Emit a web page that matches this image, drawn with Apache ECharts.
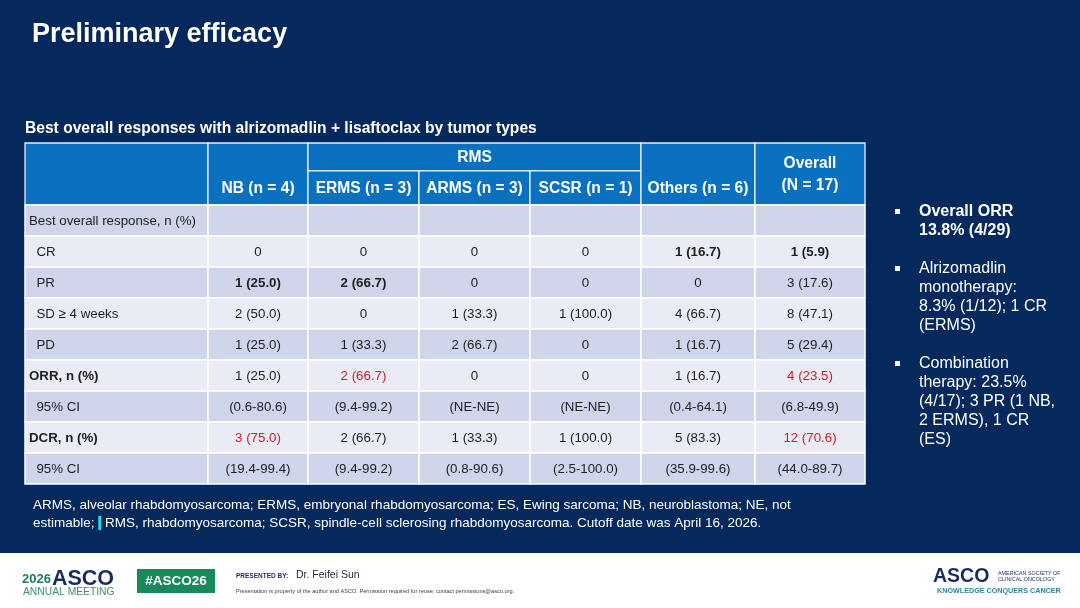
<!DOCTYPE html>
<html>
<head>
<meta charset="utf-8">
<script src="https://cdn.jsdelivr.net/npm/echarts@6/dist/echarts.min.js"></script>
<style>html,body{margin:0;padding:0;background:#05295c;}#c{width:1080px;height:608px;}</style>
</head>
<body>
<div id="c"></div>
<script>
// ---------- data ----------
const columnHeaders = ['', 'NB (n = 4)', 'ERMS (n = 3)', 'ARMS (n = 3)', 'SCSR (n = 1)', 'Others (n = 6)', 'Overall\n(N = 17)'];
const groupHeader = 'RMS';
const rowLabels = ['Best overall response, n (%)', '  CR', '  PR', '  SD \u2265 4 weeks', '  PD', 'ORR, n (%)', '  95% CI', 'DCR, n (%)', '  95% CI'];
const nbValues      = ['', '0', '1 (25.0)', '2 (50.0)', '1 (25.0)', '1 (25.0)', '(0.6-80.6)', '3 (75.0)', '(19.4-99.4)'];
const ermsValues    = ['', '0', '2 (66.7)', '0', '1 (33.3)', '2 (66.7)', '(9.4-99.2)', '2 (66.7)', '(9.4-99.2)'];
const armsValues    = ['', '0', '0', '1 (33.3)', '2 (66.7)', '0', '(NE-NE)', '1 (33.3)', '(0.8-90.6)'];
const scsrValues    = ['', '0', '0', '1 (100.0)', '0', '0', '(NE-NE)', '1 (100.0)', '(2.5-100.0)'];
const othersValues  = ['', '1 (16.7)', '0', '4 (66.7)', '1 (16.7)', '1 (16.7)', '(0.4-64.1)', '5 (83.3)', '(35.9-99.6)'];
const overallValues = ['', '1 (5.9)', '3 (17.6)', '8 (47.1)', '5 (29.4)', '4 (23.5)', '(6.8-49.9)', '12 (70.6)', '(44.0-89.7)'];
const boldRows = [5, 7];                       // row labels in bold
const boldCells = [[1, 2], [2, 2], [5, 1], [6, 1]];   // [column, row]
const redCells  = [[2, 5], [6, 5], [1, 7], [6, 7]];   // [column, row]
const bullets = [
  {bold: true,  lines: ['Overall ORR', '13.8% (4/29)']},
  {bold: false, lines: ['Alrizomadlin', 'monotherapy:', '8.3% (1/12); 1 CR', '(ERMS)']},
  {bold: false, lines: ['Combination', 'therapy: 23.5%', '(4/17); 3 PR (1 NB,', '2 ERMS), 1 CR', '(ES)']}
];

// ---------- layout ----------
const colEdges = [0, 183, 283, 394, 505, 616, 730, 840];
const FONT = '"Liberation Sans", Arial, Helvetica, sans-serif';
const HEADER_BLUE = '#0a70c0';
const ROW_DARK = '#cfd5ea', ROW_LIGHT = '#e9ebf5';
const SPLIT = -1.1;

const valueCols = [rowLabels, nbValues, ermsValues, armsValues, scsrValues, othersValues, overallValues];
const isIn = (list, c, r) => list.some(p => p[0] === c && p[1] === r);

const bodyCells = [];
valueCols.forEach((col, c) => col.forEach((t, r) => {
  bodyCells.push({c, r, text: t,
    bold: (c === 0 && boldRows.includes(r)) || isIn(boldCells, c, r),
    red: isIn(redCells, c, r)});
}));

const headerCells = [
  {c0: 0, c1: 1, r0: -2, r1: 0, text: columnHeaders[0]},
  {c0: 1, c1: 2, r0: -2, r1: 0, text: columnHeaders[1]},
  {c0: 2, c1: 5, r0: -2, r1: SPLIT, text: groupHeader},
  {c0: 2, c1: 3, r0: SPLIT, r1: 0, text: columnHeaders[2]},
  {c0: 3, c1: 4, r0: SPLIT, r1: 0, text: columnHeaders[3]},
  {c0: 4, c1: 5, r0: SPLIT, r1: 0, text: columnHeaders[4]},
  {c0: 5, c1: 6, r0: -2, r1: 0, text: columnHeaders[5]},
  {c0: 6, c1: 7, r0: -2, r1: 0, text: columnHeaders[6]}
];

function renderBody(params, api) {
  const cell = bodyCells[params.dataIndex];
  const p0 = api.coord([colEdges[cell.c], cell.r]);
  const p1 = api.coord([colEdges[cell.c + 1], cell.r + 1]);
  const fill = cell.r % 2 === 0 ? ROW_DARK : ROW_LIGHT;
  const children = [{
    type: 'rect',
    shape: {x: p0[0], y: p0[1], width: p1[0] - p0[0], height: p1[1] - p0[1]},
    style: {fill, stroke: '#ffffff', lineWidth: 1.5}
  }];
  if (cell.text) {
    const left = cell.c === 0;
    children.push({
      type: 'text',
      x: left ? p0[0] + 4 : (p0[0] + p1[0]) / 2,
      y: (p0[1] + p1[1]) / 2 + 0.5,
      style: {
        text: cell.text,
        fill: cell.red ? '#c8242b' : '#1e1e1e',
        font: (cell.bold ? 'bold ' : '') + '13.3px ' + FONT,
        align: left ? 'left' : 'center',
        verticalAlign: 'middle'
      }
    });
  }
  return {type: 'group', children};
}

function renderHeader(params, api) {
  const h = headerCells[params.dataIndex];
  const p0 = api.coord([colEdges[h.c0], h.r0]);
  const p1 = api.coord([colEdges[h.c1], h.r1]);
  const children = [{
    type: 'rect',
    shape: {x: p0[0], y: p0[1], width: p1[0] - p0[0], height: p1[1] - p0[1]},
    style: {fill: HEADER_BLUE, stroke: '#e8eef8', lineWidth: 1.3}
  }];
  if (h.text) {
    let yMid;
    const multi = h.text.indexOf('\n') >= 0;
    if (h.r0 === -2 && h.r1 === 0 && !multi) {
      const a = api.coord([0, SPLIT])[1], b = api.coord([0, 0])[1];
      yMid = (a + b) / 2;
    } else {
      yMid = (p0[1] + p1[1]) / 2;
    }
    children.push({
      type: 'text',
      x: (p0[0] + p1[0]) / 2,
      y: yMid + 0.5,
      style: {
        text: h.text, fill: '#ffffff',
        font: 'bold 15.6px ' + FONT,
        align: 'center', verticalAlign: 'middle', lineHeight: 22
      }
    });
  }
  return {type: 'group', children};
}

// ---------- graphics (texts around the table) ----------
const graphics = [];
graphics.push({type: 'text', x: 25, y: 129, style: {text: 'Best overall responses with alrizomadlin + lisaftoclax by tumor types', fill: '#ffffff', font: 'bold 15.6px ' + FONT, verticalAlign: 'middle'}});
let by = 212;
bullets.forEach(b => {
  graphics.push({type: 'rect', shape: {x: 895, y: by - 3, width: 5, height: 5}, style: {fill: '#ffffff'}});
  b.lines.forEach((ln, i) => {
    graphics.push({type: 'text', x: 919, y: by + i * 19, style: {text: ln, fill: '#ffffff', font: (b.bold ? 'bold ' : '') + '16px ' + FONT, verticalAlign: 'middle'}});
  });
  by += b.lines.length * 19 + 19;
});
graphics.push({type: 'text', x: 33, y: 505, style: {text: 'ARMS, alveolar rhabdomyosarcoma; ERMS, embryonal rhabdomyosarcoma; ES, Ewing sarcoma; NB, neuroblastoma; NE, not', fill: '#ffffff', font: '13.5px ' + FONT, verticalAlign: 'middle'}});
graphics.push({type: 'text', x: 33, y: 523, style: {
  text: 'estimable; {bar|} RMS, rhabdomyosarcoma; SCSR, spindle-cell sclerosing rhabdomyosarcoma. Cutoff date was April 16, 2026.',
  fill: '#ffffff', font: '13.5px ' + FONT, verticalAlign: 'middle',
  rich: {bar: {width: 3, height: 14, backgroundColor: '#2fd6e6', padding: [0, 0, 0, 0]}}
}});
// footer band
graphics.push({type: 'rect', shape: {x: 0, y: 553, width: 1080, height: 55}, style: {fill: '#ffffff'}});
graphics.push({type: 'text', x: 22, y: 579, style: {text: '{y|2026}{a|ASCO}', rich: {y: {fill: '#1d7f58', font: 'bold 13px ' + FONT}, a: {fill: '#1c2b5e', font: 'bold 21.5px ' + FONT, padding: [0, 0, 0, 1]}}, verticalAlign: 'middle'}});
graphics.push({type: 'text', x: 23, y: 592, style: {text: 'ANNUAL MEETING', fill: '#3d8e6c', font: '10.3px ' + FONT, verticalAlign: 'middle'}});
graphics.push({type: 'rect', shape: {x: 137, y: 569, width: 78, height: 24}, style: {fill: '#17895b'}});
graphics.push({type: 'text', x: 176, y: 581, style: {text: '#ASCO26', fill: '#ffffff', font: 'bold 13.5px ' + FONT, align: 'center', verticalAlign: 'middle'}});
graphics.push({type: 'text', x: 236, y: 576, style: {text: 'PRESENTED BY:', fill: '#1c2b5e', font: 'bold 6.5px ' + FONT, verticalAlign: 'middle'}});
graphics.push({type: 'text', x: 296, y: 575, style: {text: 'Dr. Feifei Sun', fill: '#2a2a3a', font: '10.5px ' + FONT, verticalAlign: 'middle'}});
graphics.push({type: 'text', x: 236, y: 591, style: {text: 'Presentation is property of the author and ASCO. Permission required for reuse; contact permissions@asco.org.', fill: '#3a3a4a', font: '5.6px ' + FONT, verticalAlign: 'middle'}});
graphics.push({type: 'text', x: 933, y: 577, style: {text: 'ASCO', fill: '#1c2b5e', font: 'bold 19.5px ' + FONT, verticalAlign: 'middle'}});
graphics.push({type: 'text', x: 998, y: 574, style: {text: 'AMERICAN SOCIETY OF', fill: '#1c2b5e', font: '5.4px ' + FONT, verticalAlign: 'middle'}});
graphics.push({type: 'text', x: 998, y: 580, style: {text: 'CLINICAL ONCOLOGY', fill: '#1c2b5e', font: '5.4px ' + FONT, verticalAlign: 'middle'}});
graphics.push({type: 'text', x: 937, y: 591, style: {text: 'KNOWLEDGE CONQUERS CANCER', fill: '#2b86a0', font: 'bold 7.2px ' + FONT, verticalAlign: 'middle'}});

const chart = echarts.init(document.getElementById('c'), null, {renderer: 'canvas', width: 1080, height: 608});
chart.setOption({
  backgroundColor: '#05295c',
  animation: false,
  title: {text: 'Preliminary efficacy', left: 27, top: 16, textStyle: {color: '#ffffff', fontSize: 27, fontWeight: 'bold', fontFamily: FONT}},
  grid: {left: 25, right: 215, top: 143, bottom: 124},
  xAxis: {type: 'value', min: 0, max: 840, show: false},
  yAxis: {type: 'value', min: -2, max: 9, inverse: true, show: false},
  series: [
    {type: 'custom', renderItem: renderHeader, data: headerCells.map(h => [colEdges[h.c0], h.r0]), silent: true},
    {type: 'custom', renderItem: renderBody, data: bodyCells.map(b => [colEdges[b.c], b.r]), silent: true}
  ],
  graphic: {elements: graphics}
});
</script>
</body>
</html>
